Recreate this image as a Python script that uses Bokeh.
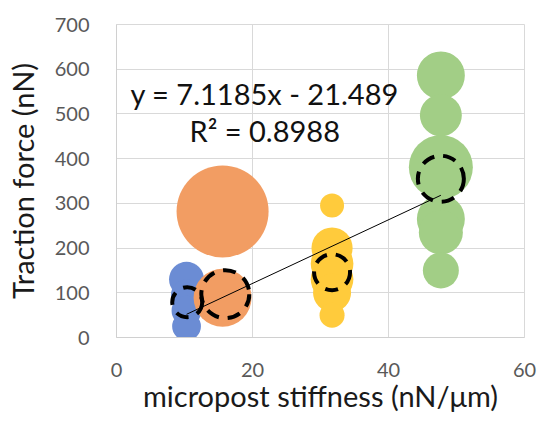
import numpy as np
from bokeh.plotting import figure
from bokeh.models import Range1d, FixedTicker, Label
from bokeh.embed import file_html
from bokeh.resources import INLINE

# ---------------- data ----------------
x_ticks = [0, 20, 40, 60]
y_ticks = [0, 100, 200, 300, 400, 500, 600, 700]

blue_x = [10.3, 10.3, 10.3, 10.3]
blue_force = [130, 95, 60, 25]
blue_bubble = [14.5, 11.5, 10.6, 9.8]

orange_x = [15.6, 15.6]
orange_force = [282, 89]
orange_bubble = [100.0, 39.7]

yellow_x = [31.7, 31.7, 31.7, 31.7, 31.7, 31.7]
yellow_force = [295, 200, 165, 130, 100, 50]
yellow_bubble = [6.8, 20.0, 21.5, 21.5, 17.1, 7.4]

green_x = [47.7, 47.7, 47.7, 47.7, 47.7, 47.7]
green_force = [586, 497, 381, 265, 235, 150]
green_bubble = [27.2, 20.8, 48.4, 27.2, 22.9, 15.3]

mean_x = [10.4, 16.0, 31.7, 47.7]
mean_force = [79, 97, 146, 355]
mean_bubble = [10.6, 27.2, 15.3, 25.0]

slope = 7.1185
intercept = -21.489
r_squared = 0.8988

# ---------------- figure ----------------
FONT = "Lato"
BUBBLE_SCALE = 9.2  # diameter in px per sqrt(bubble value)

p = figure(width=540, height=421, x_range=Range1d(0, 60), y_range=Range1d(0, 700),
           output_backend="svg", toolbar_location=None,
           min_border_left=116, min_border_right=16, min_border_top=24, min_border_bottom=84)
p.background_fill_color = "white"
p.border_fill_color = "white"
p.outline_line_color = "#D9D9D9"

for ax in (p.xaxis[0], p.yaxis[0]):
    ax.major_tick_line_color = None
    ax.minor_tick_line_color = None
    ax.axis_line_color = "#D0D0D0"
    ax.major_label_text_font = FONT
    ax.major_label_text_font_size = "20px"
    ax.major_label_text_color = "#595959"
    ax.axis_label_text_font = FONT
    ax.axis_label_text_font_size = "29px"
    ax.axis_label_text_font_style = "normal"
    ax.axis_label_text_color = "#1a1a1a"

p.xaxis.ticker = FixedTicker(ticks=x_ticks)
p.yaxis.ticker = FixedTicker(ticks=y_ticks)
p.xaxis.axis_label = "micropost stiffness (nN/μm)"
p.yaxis.axis_label = "Traction force (nN)"
p.xaxis.major_label_standoff = 19
p.xaxis.axis_label_standoff = -2
p.yaxis.major_label_standoff = 21
p.yaxis.axis_label_standoff = 12

p.xgrid.ticker = FixedTicker(ticks=x_ticks)
p.ygrid.ticker = FixedTicker(ticks=y_ticks)
p.xgrid.grid_line_color = "#D9D9D9"
p.ygrid.grid_line_color = "#D9D9D9"

def diam(v):
    return list(BUBBLE_SCALE * np.sqrt(np.array(v)))

series = [
    (blue_x, blue_force, blue_bubble, "#6B8CD4"),
    (orange_x, orange_force, orange_bubble, "#F29D63"),
    (yellow_x, yellow_force, yellow_bubble, "#FFCB3C"),
    (green_x, green_force, green_bubble, "#A2CE86"),
]
for xs, ys, bs, col in series:
    p.scatter(xs, ys, size=diam(bs), marker="circle", fill_color=col, line_color=None)

# trend line over data x range
all_x = blue_x + orange_x + yellow_x + green_x
tx = np.array([min(all_x), max(all_x)])
p.line(tx, slope * tx + intercept, line_color="black", line_width=1)

# means (dashed)
p.scatter(mean_x, mean_force, size=diam(mean_bubble), marker="circle",
          fill_alpha=0, line_color="black", line_width=4, line_dash="13 9")

eq = f"y = {slope}x - {abs(intercept)}"
r2 = f"R² = {r_squared}"
p.add_layout(Label(x=21.8, y=546, text=eq, text_align="center", text_baseline="middle",
                   text_font=FONT, text_font_size="29px", text_color="#111111"))
p.add_layout(Label(x=21.8, y=463, text=r2, text_align="center", text_baseline="middle",
                   text_font=FONT, text_font_size="29px", text_color="#111111"))

open("out.html", "w").write(file_html(p, INLINE))
